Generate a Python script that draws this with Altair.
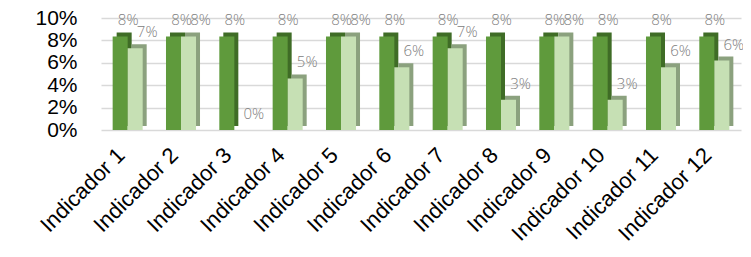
import json
import altair as alt
import pandas as pd

categories = [f"Indicador {i}" for i in range(1, 13)]
series_names = ["Serie A", "Serie B"]
serie_a = [0.0835] * 12
serie_b = [0.073, 0.0835, 0.0, 0.046, 0.0835, 0.056, 0.073, 0.027, 0.0835, 0.027, 0.056, 0.062]
y_ticks = [0, 0.02, 0.04, 0.06, 0.08, 0.10]

front_colors = {"Serie A": "#5f9a3c", "Serie B": "#c6e0b4"}
side_colors = {"Serie A": "#3f6c26", "Serie B": "#8ba17e"}

BAR_W = 0.2815  # bar width in category units
rows = []
for i, (c, a, b) in enumerate(zip(categories, serie_a, serie_b)):
    for k, (s, v) in enumerate(((series_names[0], a), (series_names[1], b))):
        x0 = i - BAR_W + k * BAR_W
        rows.append({"cat": c, "serie": s, "v": v, "x0": x0, "x1": x0 + BAR_W,
                     "xc": x0 + BAR_W / 2,
                     "front": front_colors[s], "side": side_colors[s]})
df = pd.DataFrame(rows)

label_expr = json.dumps(categories) + "[round(datum.value)]"

x_scale = alt.Scale(domain=[-0.5, len(categories) - 0.5], nice=False, zero=False)
x_axis = alt.Axis(values=list(range(len(categories))), labelExpr=label_expr,
                  labelAngle=-45, labelFontSize=22, labelColor="#000000",
                  labelFont="Liberation Sans", labelAlign="right",
                  labelBaseline="top", labelPadding=14, labelOffset=-14,
                  domain=False, ticks=False, grid=False, labelFlush=False,
                  labelOverlap=False)
y_scale = alt.Scale(domain=[0, 0.10], nice=False, zero=True)
y_axis = alt.Axis(values=y_ticks, format=".0%", labelFontSize=21,
                  labelColor="#000000", labelFont="Liberation Sans",
                  labelPadding=24, domain=False, ticks=False, labelOverlap=False,
                  labelFlush=False, gridColor="#d9d9d9", gridWidth=1.5)
y_enc = alt.Y("v:Q", title=None, scale=y_scale, axis=y_axis)
x_bar = alt.X("x0:Q", title=None, scale=x_scale, axis=x_axis)
x_txt = alt.X("xc:Q", title=None, scale=x_scale, axis=x_axis)

base = alt.Chart(df)

back = base.mark_bar(xOffset=4, x2Offset=4, yOffset=-4, y2Offset=-4).encode(
    x=x_bar, x2="x1:Q", y=y_enc, y2=alt.datum(0),
    color=alt.Color("side:N", scale=None),
)
front = base.mark_bar().encode(
    x=x_bar, x2="x1:Q", y=y_enc, y2=alt.datum(0),
    color=alt.Color("front:N", scale=None),
)
label_style = dict(dy=-16, fontSize=15, color="#808080", font="Open Sans",
                   fontWeight=300, baseline="middle")
labels_a = base.transform_filter(alt.datum.serie == series_names[0]).mark_text(
    dx=8, **label_style).encode(x=x_txt, y=y_enc, text=alt.Text("v:Q", format=".0%"))
labels_b = base.transform_filter(alt.datum.serie == series_names[1]).mark_text(
    dx=12, **label_style).encode(x=x_txt, y=y_enc, text=alt.Text("v:Q", format=".0%"))

chart = alt.layer(back, front, labels_a, labels_b).properties(
    width=640, height=112,
    padding={"left": 93, "top": 10, "right": 2, "bottom": 119},
    autosize=alt.AutoSizeParams(type="none"),
    background="#ffffff",
).configure_view(stroke=None)

chart.save("out.html", embed_options={"renderer": "svg", "actions": False})
